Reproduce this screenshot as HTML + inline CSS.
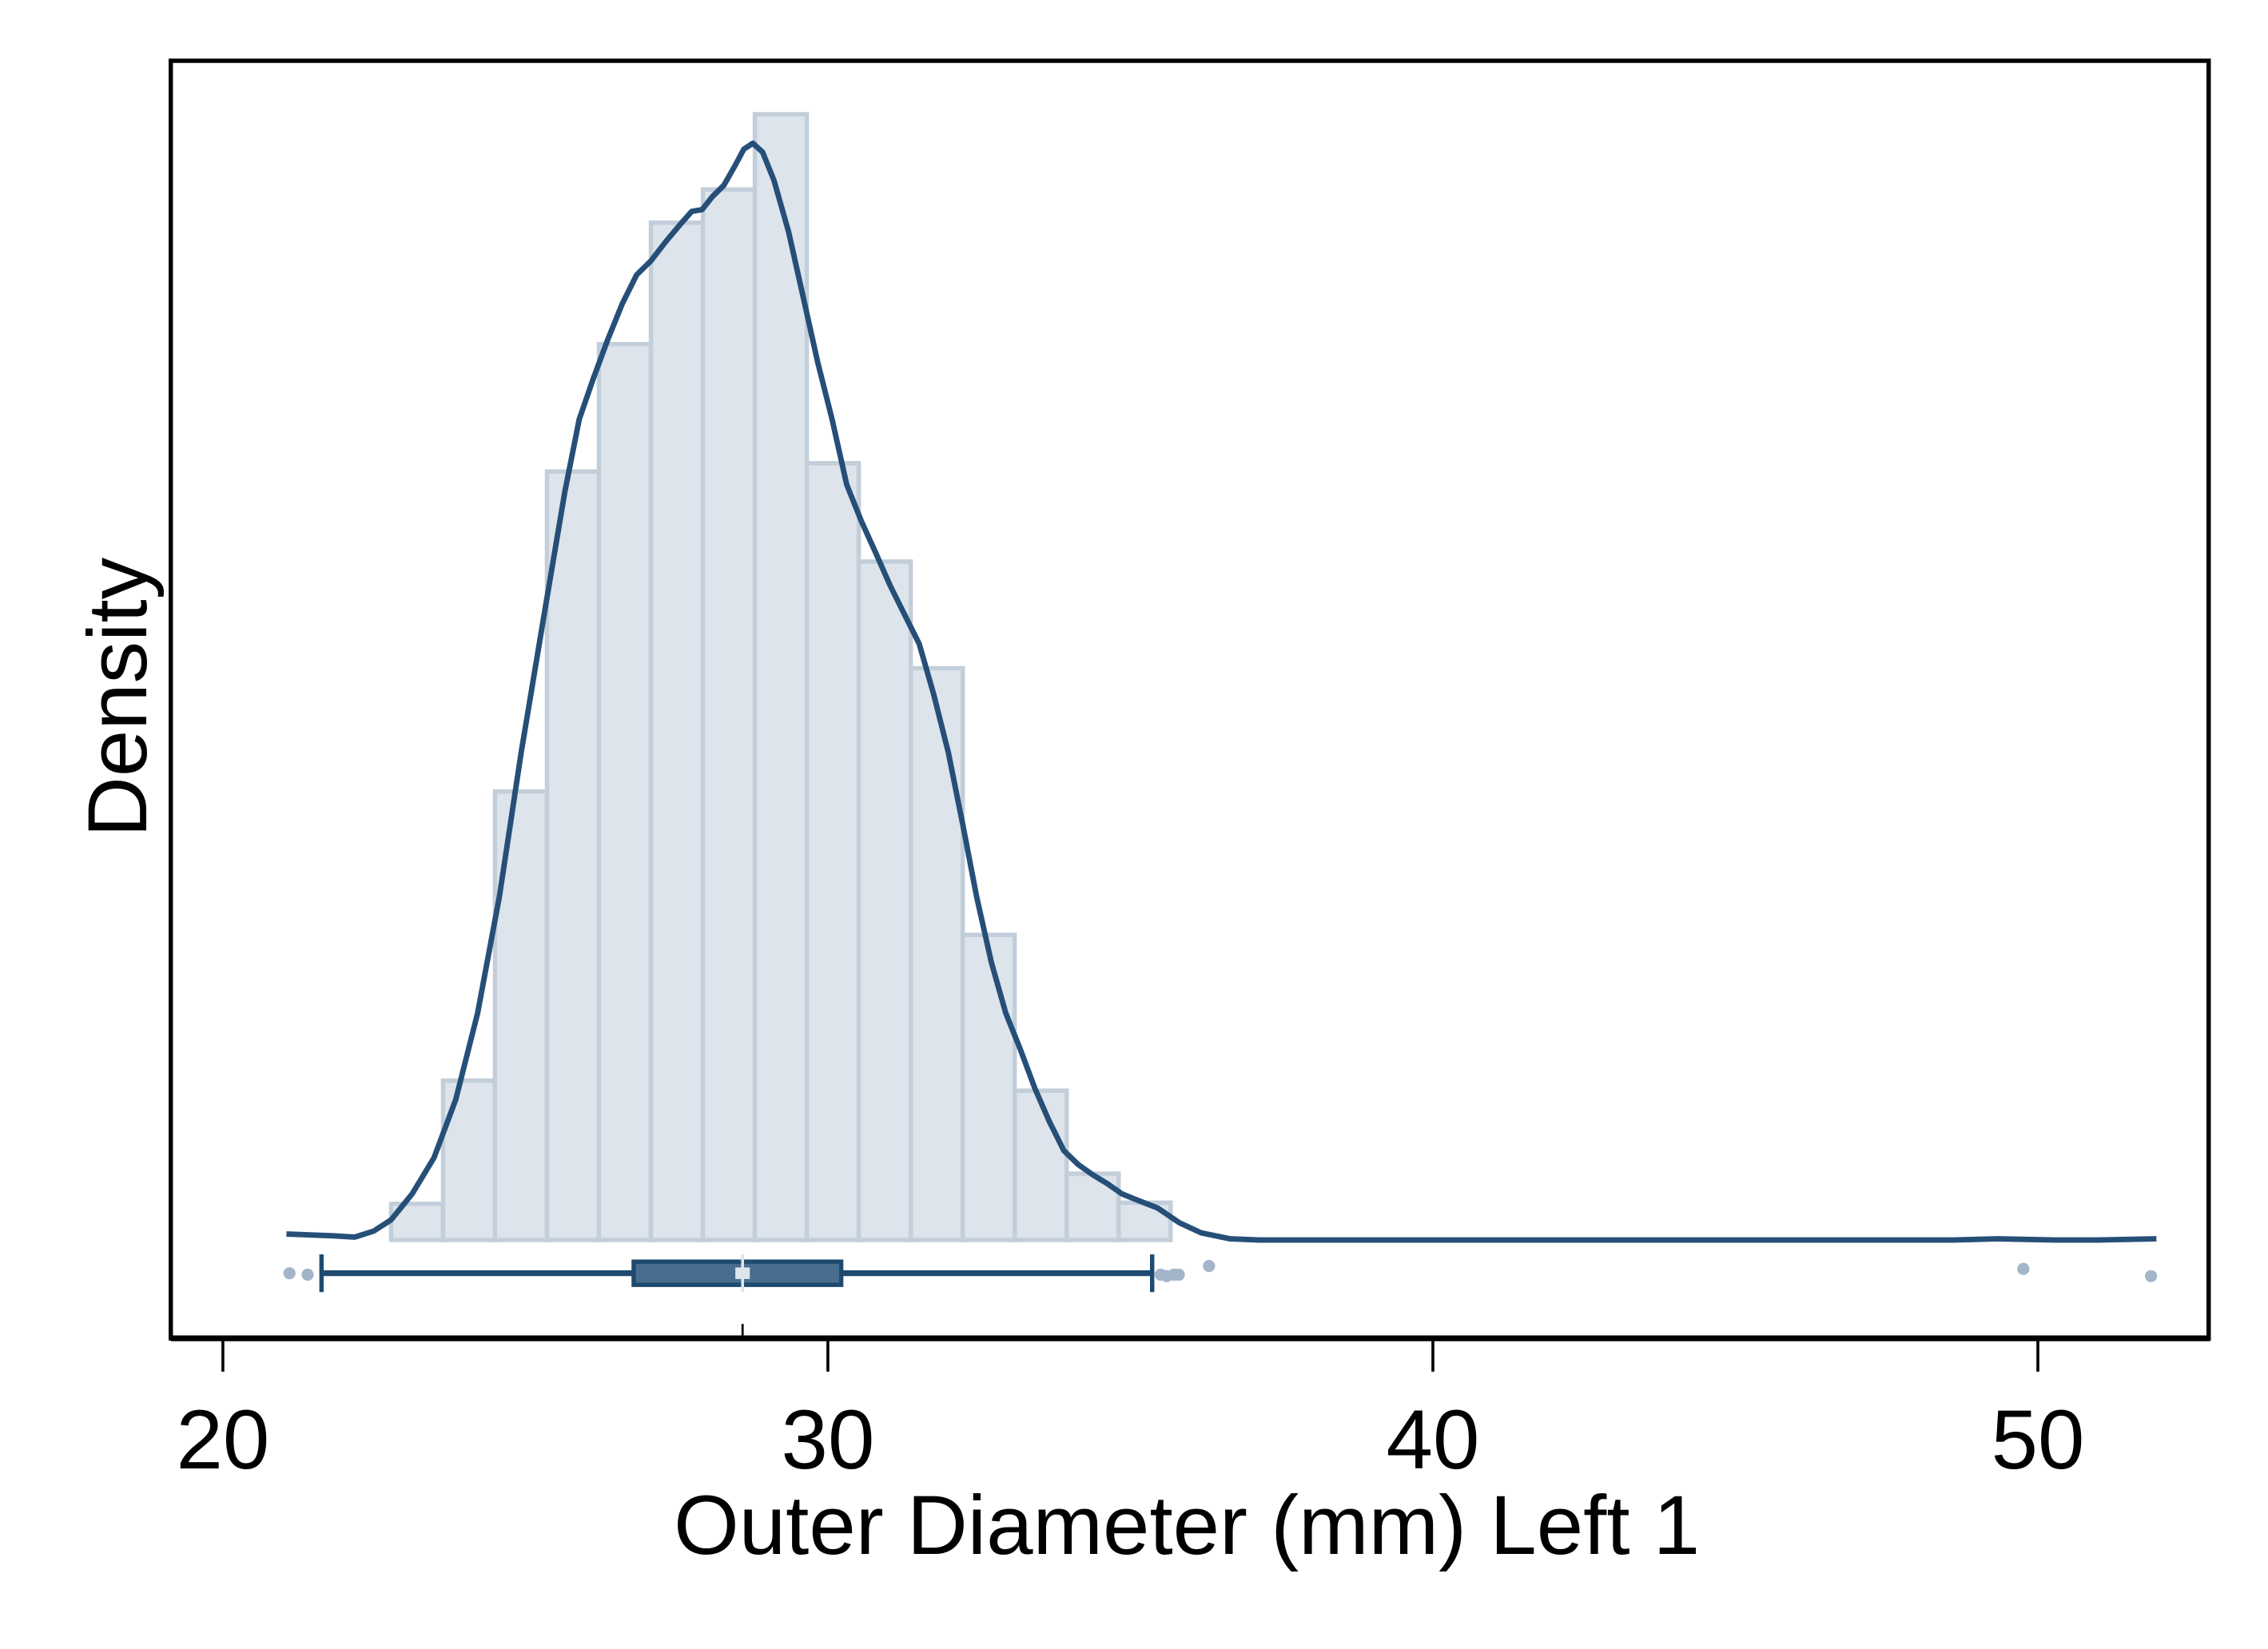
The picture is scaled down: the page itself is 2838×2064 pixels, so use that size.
<!DOCTYPE html>
<html><head><meta charset="utf-8"><style>
html,body{margin:0;padding:0;background:#fff;}
svg{display:block;}
text{font-family:"Liberation Sans",Arial,sans-serif;fill:#000;}
</style></head><body>
<svg id="chart" width="2838" height="2064" viewBox="0 0 1567 1139.7" preserveAspectRatio="none" xmlns="http://www.w3.org/2000/svg">
<rect x="0" y="0" width="1567" height="1139.7" fill="#fff"/>
<g id="bars"></g>
<g id="kde"></g>
<g id="box"></g>
<rect x="118" y="42" width="1408" height="883" fill="none" stroke="#000" stroke-width="3"/>
<line x1="118" y1="925" x2="1527" y2="925" stroke="#000" stroke-width="4"/>
<g id="xticks"></g>
<text x="820" y="1074" font-size="58" text-anchor="middle">Outer Diameter (mm) Left 1</text>
<text transform="translate(101,482) rotate(-90)" font-size="58" text-anchor="middle">Density</text>
</svg>
<script>
const binStart = 22.78;
const binWidth = 0.859;
const binDensity = [0.0061,0.0269,0.0757,0.1297,0.1512,0.1717,0.1773,0.19,0.1311,0.1145,0.0965,0.0515,0.0252,0.0112,0.0063];
const kdeX = [21.05,21.82,22.18,22.49,22.78,23.13,23.49,23.85,24.21,24.57,24.93,25.29,25.65,25.89,26.12,26.36,26.60,26.84,27.08,27.32,27.56,27.75,27.92,28.09,28.28,28.47,28.61,28.76,28.92,29.11,29.35,29.59,29.83,30.07,30.31,30.55,30.79,31.03,31.27,31.51,31.75,31.99,32.23,32.46,32.70,32.94,33.18,33.42,33.66,33.90,34.14,34.38,34.62,34.86,35.10,35.45,35.81,36.17,36.65,37.13,48.61,49.33,50.29,51.00,51.96];
const kdeY = [0.0010,0.0007,0.0005,0.0015,0.0034,0.0078,0.0139,0.0237,0.0383,0.0579,0.0823,0.1043,0.1262,0.1385,0.1453,0.1519,0.1580,0.1629,0.1653,0.1685,0.1714,0.1736,0.1739,0.1761,0.1780,0.1814,0.1841,0.1851,0.1836,0.1788,0.1702,0.1592,0.1482,0.1385,0.1275,0.1214,0.1160,0.1104,0.1055,0.1006,0.0921,0.0823,0.0701,0.0579,0.0469,0.0383,0.0322,0.0256,0.0200,0.0151,0.0127,0.0110,0.0095,0.0078,0.0068,0.0054,0.0029,0.0012,0.0002,0,0,0.0002,0,0,0.0002];
const boxStats = {whiskerLow:21.63, q1:26.79, median:28.59, mean:28.59, q3:30.22, whiskerHigh:35.36};
const outliers = [21.1,21.4,35.5,35.6,35.72,35.8,36.3,49.76,51.87];
const outlierOffsets = [0,1,1,2,1,1,-5,-3,2];
const xTicks = [20,30,40,50];

const NS='http://www.w3.org/2000/svg';
function xs(v){return 154+(v-20)*41.8;}
function ys(d){return 857-d*4095;}
function mk(tag,attrs,parent){const e=document.createElementNS(NS,tag);for(const k in attrs)e.setAttribute(k,attrs[k]);parent.appendChild(e);return e;}

const gb=document.getElementById('bars');
binDensity.forEach((d,i)=>{
  const x0=xs(binStart+i*binWidth), x1=xs(binStart+(i+1)*binWidth);
  const r=mk('rect',{x:x0,y:ys(d),width:x1-x0,height:ys(0)-ys(d),fill:'#dde4eb',stroke:'#c2ceda','stroke-width':3},gb);
  
  
});

const gk=document.getElementById('kde');
const pts=kdeX.map((x,i)=>xs(x).toFixed(1)+','+ys(kdeY[i]).toFixed(1)).join(' ');
const pl=mk('polyline',{points:pts,fill:'none',stroke:'#264f78','stroke-width':3.8,'stroke-linejoin':'round'},gk);



const g=document.getElementById('box');
const cy=880;
outliers.forEach((v,i)=>{
  const c=mk('circle',{cx:xs(v),cy:cy+outlierOffsets[i],r:4.2,fill:'#a3b5c8'},g);
  
  
});
const wl=mk('line',{x1:xs(boxStats.whiskerLow),y1:cy,x2:xs(boxStats.whiskerHigh),y2:cy,stroke:'#1f4a70','stroke-width':4},g);


[boxStats.whiskerLow,boxStats.whiskerHigh].forEach(v=>{
  const c=mk('line',{x1:xs(v),y1:cy-13,x2:xs(v),y2:cy+13,stroke:'#1f4a70','stroke-width':3},g);
  
  
});
const bx=mk('rect',{x:xs(boxStats.q1),y:cy-8,width:xs(boxStats.q3)-xs(boxStats.q1),height:16,fill:'#486d8f',stroke:'#1f4a70','stroke-width':3},g);


const md=mk('line',{x1:xs(boxStats.median),y1:cy-13,x2:xs(boxStats.median),y2:cy+13,stroke:'#dde4eb','stroke-width':2},g);


const mn=mk('rect',{x:xs(boxStats.mean)-5,y:cy-4,width:10,height:8,fill:'#dde4eb'},g);


const mt=mk('line',{x1:xs(boxStats.median),y1:915,x2:xs(boxStats.median),y2:925,stroke:'#000','stroke-width':1.5},g);



const gt=document.getElementById('xticks');
xTicks.forEach(v=>{
  const l=mk('line',{x1:xs(v),y1:926,x2:xs(v),y2:948,stroke:'#000','stroke-width':2},gt);
  
  
  const t=mk('text',{x:xs(v),y:1015,'font-size':58,'text-anchor':'middle'},gt);
  t.textContent=v;
  
  
});
</script>
</body></html>
